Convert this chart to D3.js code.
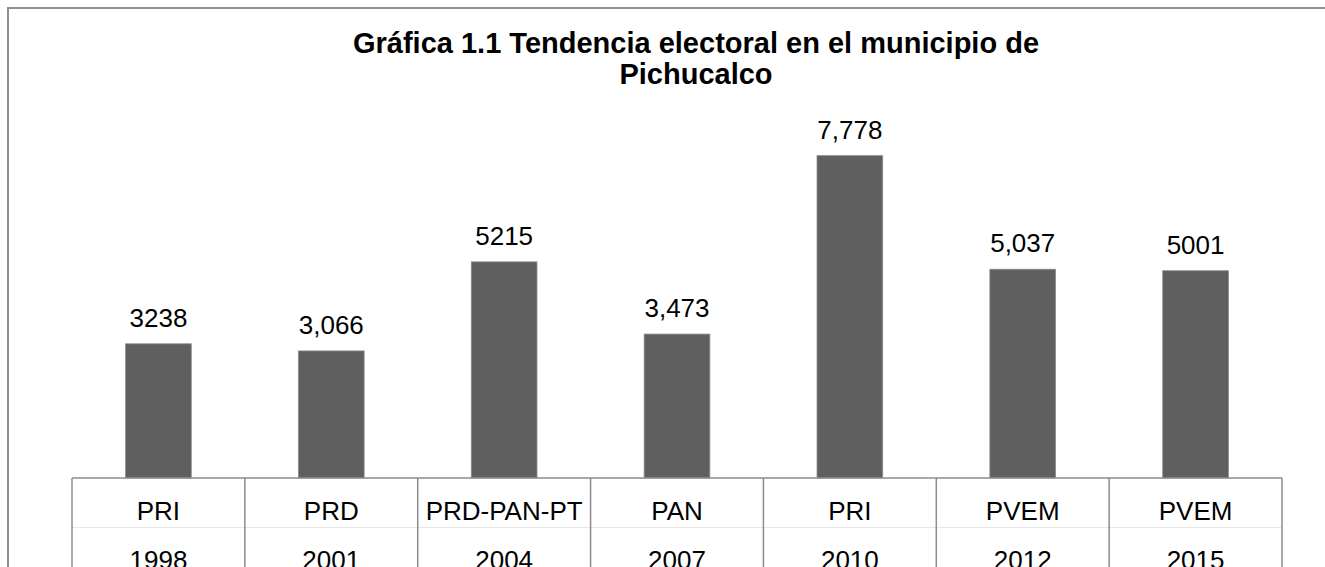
<!DOCTYPE html>
<html>
<head>
<meta charset="utf-8">
<script src="https://cdn.jsdelivr.net/npm/d3@7/dist/d3.min.js"></script>
<style>
  body { margin: 0; background: #fff; }
  svg { display: block; font-family: "Liberation Sans", Arial, sans-serif; }
</style>
</head>
<body>
<div id="chart"></div>
<script>
var parties = ["PRI", "PRD", "PRD-PAN-PT", "PAN", "PRI", "PVEM", "PVEM"];
var years = ["1998", "2001", "2004", "2007", "2010", "2012", "2015"];
var votes = [3238, 3066, 5215, 3473, 7778, 5037, 5001];
var voteLabels = ["3238", "3,066", "5215", "3,473", "7,778", "5,037", "5001"];
var titleLines = ["Gráfica 1.1 Tendencia electoral en el municipio de", "Pichucalco"];

var width = 1325, height = 567;
var plotLeft = 72, plotRight = 1282, plotTop = 105, plotBottom = 478;

var svg = d3.select("#chart").append("svg")
    .attr("width", width)
    .attr("height", height);

// outer chart border (right/bottom fall outside the window)
svg.append("path")
    .attr("d", "M8," + height + "V8H" + width)
    .attr("fill", "none")
    .attr("stroke", "#8e8e8e")
    .attr("stroke-width", 2);

// title
svg.append("g").selectAll("text")
    .data(titleLines)
    .enter().append("text")
    .attr("x", 696)
    .attr("y", function (d, i) { return 53 + i * 31; })
    .attr("text-anchor", "middle")
    .style("font-size", "29px")
    .style("font-weight", "bold")
    .text(function (d) { return d; });

var idx = d3.range(votes.length);

var x = d3.scaleBand()
    .domain(idx)
    .range([plotLeft, plotRight])
    .padding(0);

var y = d3.scaleLinear()
    .domain([0, 9000])
    .range([plotBottom, plotTop]);

var barW = x.bandwidth() * 0.38;

// bars
svg.append("g").selectAll("rect")
    .data(idx)
    .enter().append("rect")
    .attr("x", function (i) { return x(i) + (x.bandwidth() - barW) / 2; })
    .attr("y", function (i) { return y(votes[i]); })
    .attr("width", barW)
    .attr("height", function (i) { return y(0) - y(votes[i]); })
    .attr("fill", "#5f5f5f")
    .attr("stroke", "#8a8a8a")
    .attr("stroke-width", 0.8);

// value labels
svg.append("g").selectAll("text")
    .data(idx)
    .enter().append("text")
    .attr("x", function (i) { return x(i) + x.bandwidth() / 2; })
    .attr("y", function (i) { return y(votes[i]) - 17; })
    .attr("text-anchor", "middle")
    .style("font-size", "26px")
    .text(function (i) { return voteLabels[i]; });

// category table under the axis
var table = svg.append("g").attr("id", "cat-table");

table.append("line")
    .attr("x1", plotLeft).attr("x2", plotRight)
    .attr("y1", 527.5).attr("y2", 527.5)
    .attr("stroke", "#e6e6e6")
    .attr("stroke-width", 1);

table.selectAll("line.div")
    .data(idx.concat([idx.length]))
    .enter().append("line")
    .attr("class", "div")
    .attr("x1", function (i) { return i < idx.length ? x(i) : plotRight; })
    .attr("x2", function (i) { return i < idx.length ? x(i) : plotRight; })
    .attr("y1", plotBottom)
    .attr("y2", height)
    .attr("stroke", "#8c8c8c")
    .attr("stroke-width", 1.5);

table.append("line")
    .attr("x1", plotLeft).attr("x2", plotRight)
    .attr("y1", plotBottom).attr("y2", plotBottom)
    .attr("stroke", "#8c8c8c")
    .attr("stroke-width", 1.5);

table.selectAll("text.party")
    .data(idx)
    .enter().append("text")
    .attr("class", "party")
    .attr("x", function (i) { return x(i) + x.bandwidth() / 2; })
    .attr("y", 520)
    .attr("text-anchor", "middle")
    .style("font-size", "26px")
    .text(function (i) { return parties[i]; });

table.selectAll("text.year")
    .data(idx)
    .enter().append("text")
    .attr("class", "year")
    .attr("x", function (i) { return x(i) + x.bandwidth() / 2; })
    .attr("y", 569)
    .attr("text-anchor", "middle")
    .style("font-size", "26px")
    .text(function (i) { return years[i]; });
</script>
</body>
</html>
